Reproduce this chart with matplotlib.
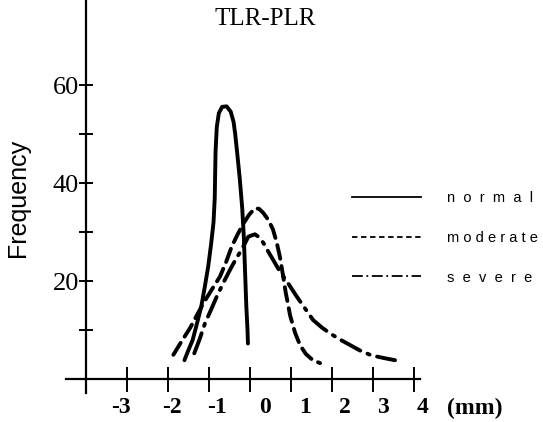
import matplotlib
matplotlib.use("Agg")
import matplotlib.pyplot as plt
from matplotlib.lines import Line2D
from matplotlib.transforms import ScaledTranslation

# distribution curves, (mm, frequency)
normal_x = [-1.60, -1.50, -1.40, -1.29, -1.19, -1.10, -1.02, -0.95, -0.89, -0.86, -0.85,
            -0.84, -0.81, -0.76, -0.68, -0.57, -0.47, -0.40, -0.36, -0.31, -0.25, -0.19,
            -0.15, -0.12, -0.09, -0.06, -0.05]
normal_y = [3.9, 6.0, 8.0, 11.5, 14.8, 19.0, 23.0, 27.5, 32.0, 37.0, 42.0,
            46.5, 51.5, 54.3, 55.6, 55.7, 54.6, 52.5, 50.0, 46.0, 41.0, 35.0,
            29.0, 22.0, 15.0, 10.0, 7.3]

moderate_x = [-1.87, -1.68, -1.46, -1.30, -1.14, -0.94, -0.73, -0.58, -0.45, -0.30, -0.16,
              -0.02, 0.12, 0.22, 0.32, 0.45, 0.56, 0.65, 0.73, 0.80, 0.87, 0.98, 1.10,
              1.22, 1.36, 1.52, 1.71]
moderate_y = [5.0, 7.6, 10.5, 13.0, 15.5, 18.2, 21.0, 24.0, 27.0, 29.6, 31.8,
              33.6, 34.9, 34.8, 34.0, 32.5, 30.6, 28.0, 25.0, 21.5, 17.8, 13.0, 9.5,
              7.0, 5.2, 4.0, 3.3]

severe_x = [-1.36, -1.22, -1.10, -0.95, -0.81, -0.65, -0.49, -0.34, -0.20, -0.04, 0.12,
            0.22, 0.33, 0.45, 0.57, 0.73, 0.93, 1.14, 1.34, 1.54, 1.75, 1.95, 2.20,
            2.44, 2.68, 2.93, 3.12, 3.29, 3.54]
severe_y = [5.3, 8.4, 11.4, 14.2, 16.9, 19.7, 22.3, 24.6, 26.5, 29.1, 29.6,
            29.0, 27.8, 26.0, 24.3, 22.0, 19.6, 16.9, 14.5, 12.1, 10.6, 9.4, 8.1,
            7.0, 5.9, 5.0, 4.6, 4.3, 3.9]

x_ticks = [-3, -2, -1, 0, 1, 2, 3, 4]
x_labels = ["-3", "-2", "-1", "0", "1", "2", "3", "4"]
x_label_shift = [-6, 4, 8, 15, 14, 13, 10, 9]  # px
y_ticks = [10, 20, 30, 40, 50, 60]
y_labels = ["", "20", "", "40", "", "60"]

series_names = ["n  o  r  m  a  l", "m o d e r a t e", "s  e  v  e  r  e"]

serif = "Liberation Serif"
sans = "Liberation Sans"

fig = plt.figure(figsize=(5.43, 4.22), dpi=100)
ax = fig.add_axes([0, 0, 1, 1])
ax.set_xlim(-6.10, 7.15)
ax.set_ylim(-8.71, 77.4)

lw = 2.8
ax.plot(normal_x, normal_y, color="black", lw=lw, solid_capstyle="round",
        solid_joinstyle="round")
ax.plot(moderate_x, moderate_y, color="black", lw=lw, linestyle=(0, (3.6, 1.9)),
        dash_capstyle="round")
ax.plot(severe_x, severe_y, color="black", lw=lw, linestyle=(0, (5.5, 2.0, 0.6, 2.0)),
        dash_capstyle="round")

# axes drawn as crossing lines
for side in ["top", "right"]:
    ax.spines[side].set_visible(False)
ax.spines["left"].set_position(("data", -4))
ax.spines["left"].set_bounds(-2.7, 77.4)
ax.spines["bottom"].set_position(("data", 0))
ax.spines["bottom"].set_bounds(-4.5, 4.15)
for side in ["left", "bottom"]:
    ax.spines[side].set_linewidth(1.6)

ax.set_xticks(x_ticks)
ax.set_xticklabels(x_labels, fontfamily=serif, fontweight="bold", fontsize=17)
ax.tick_params(axis="x", direction="inout", length=18, width=1.4, pad=4)
for lab, dx in zip(ax.get_xticklabels(), x_label_shift):
    lab.set_transform(lab.get_transform() + ScaledTranslation(dx / 100, 0, fig.dpi_scale_trans))

ax.set_yticks(y_ticks)
ax.set_yticklabels(y_labels, fontfamily=serif, fontsize=19)
ax.tick_params(axis="y", direction="inout", length=10, width=1.4, pad=0)

ax.text(5.49, -5.9, "(mm)", fontfamily=serif, fontweight="bold", fontsize=17,
        ha="center", va="center")
ax.text(0.37, 73.5, "TLR-PLR", fontfamily=serif, fontsize=18, ha="center", va="center")
ax.text(-5.65, 37.0, "Frequency", fontfamily=sans, fontsize=18, rotation=90,
        ha="center", va="center")

handles = [
    Line2D([], [], color="black", lw=1.3),
    Line2D([], [], color="black", lw=1.3, linestyle=(0, (3, 2))),
    Line2D([], [], color="black", lw=1.3, linestyle=(0, (6, 2, 1, 2))),
]
ax.legend(handles, series_names, loc="center left", bbox_to_anchor=(352 / 543, 1 - 238 / 422),
          bbox_transform=fig.transFigure, frameon=False, borderpad=0, borderaxespad=0,
          handlelength=4.7, handletextpad=1.8, labelspacing=1.75,
          prop={"family": sans, "size": 10.5})

fig.savefig("out.png", dpi=100)
